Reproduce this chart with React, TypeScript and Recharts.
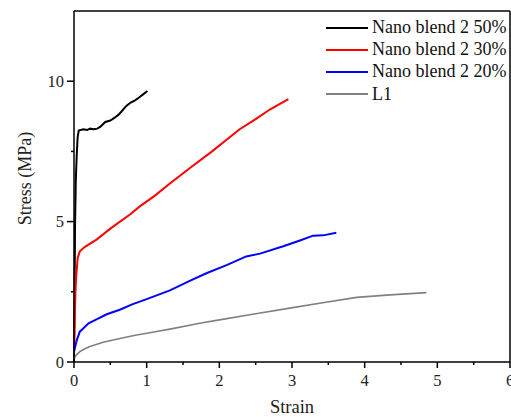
import React from 'react';
import { LineChart, Line, XAxis, YAxis, ReferenceLine, Legend } from 'recharts';

// strain / stress pairs
const blend50 = [
    { x: 0, y: 0 }, { x: 0.008, y: 2.5 }, { x: 0.014, y: 4.8 }, { x: 0.025, y: 6.5 },
    { x: 0.037, y: 7.33 }, { x: 0.05, y: 8.0 }, { x: 0.065, y: 8.24 }, { x: 0.13, y: 8.29 },
    { x: 0.18, y: 8.26 }, { x: 0.22, y: 8.31 }, { x: 0.27, y: 8.29 }, { x: 0.32, y: 8.31 },
    { x: 0.36, y: 8.37 }, { x: 0.43, y: 8.55 }, { x: 0.5, y: 8.6 }, { x: 0.56, y: 8.7 },
    { x: 0.61, y: 8.8 }, { x: 0.66, y: 8.94 }, { x: 0.72, y: 9.12 }, { x: 0.78, y: 9.24 },
    { x: 0.84, y: 9.32 }, { x: 0.9, y: 9.43 }, { x: 0.96, y: 9.55 }, { x: 1.01, y: 9.65 },
];
const blend30 = [
    { x: 0, y: 0.3 }, { x: 0.01, y: 1.5 }, { x: 0.02, y: 2.5 }, { x: 0.03, y: 3.05 },
    { x: 0.05, y: 3.7 }, { x: 0.08, y: 3.94 }, { x: 0.15, y: 4.1 }, { x: 0.31, y: 4.36 },
    { x: 0.5, y: 4.75 }, { x: 0.77, y: 5.25 }, { x: 0.91, y: 5.55 }, { x: 1.1, y: 5.9 },
    { x: 1.32, y: 6.36 }, { x: 1.6, y: 6.92 }, { x: 1.9, y: 7.5 }, { x: 2.28, y: 8.29 },
    { x: 2.5, y: 8.65 }, { x: 2.7, y: 9.0 }, { x: 2.95, y: 9.36 },
];
const blend20 = [
    { x: 0, y: 0.37 }, { x: 0.04, y: 0.79 }, { x: 0.08, y: 1.08 }, { x: 0.13, y: 1.2 },
    { x: 0.2, y: 1.38 }, { x: 0.31, y: 1.52 }, { x: 0.45, y: 1.7 }, { x: 0.63, y: 1.86 },
    { x: 0.8, y: 2.05 }, { x: 1.0, y: 2.24 }, { x: 1.32, y: 2.55 }, { x: 1.6, y: 2.9 },
    { x: 1.83, y: 3.17 }, { x: 2.1, y: 3.45 }, { x: 2.37, y: 3.76 }, { x: 2.56, y: 3.86 },
    { x: 2.88, y: 4.12 }, { x: 3.1, y: 4.32 }, { x: 3.29, y: 4.5 }, { x: 3.43, y: 4.51 },
    { x: 3.61, y: 4.6 },
];
const l1 = [
    { x: 0, y: 0.1 }, { x: 0.02, y: 0.22 }, { x: 0.08, y: 0.37 }, { x: 0.15, y: 0.47 },
    { x: 0.22, y: 0.55 }, { x: 0.4, y: 0.7 }, { x: 0.6, y: 0.82 }, { x: 0.86, y: 0.96 },
    { x: 1.1, y: 1.07 }, { x: 1.32, y: 1.17 }, { x: 1.73, y: 1.38 }, { x: 2.0, y: 1.5 },
    { x: 2.5, y: 1.72 }, { x: 2.97, y: 1.92 }, { x: 3.4, y: 2.1 }, { x: 3.89, y: 2.3 },
    { x: 4.35, y: 2.39 }, { x: 4.85, y: 2.47 },
];

const xTicks = [0, 0.5, 1, 1.5, 2, 2.5, 3, 3.5, 4, 4.5, 5, 5.5, 6];
const yTicks = [0, 2.5, 5, 7.5, 10];

const series = [
    { name: 'Nano blend 2 50%', data: blend50, color: '#000000', width: 2 },
    { name: 'Nano blend 2 30%', data: blend30, color: '#ff0000', width: 2 },
    { name: 'Nano blend 2 20%', data: blend20, color: '#0000ff', width: 2 },
    { name: 'L1', data: l1, color: '#808080', width: 1.6 },
];

const FONT = 'Liberation Serif';

const XTick = (props: any) => {
    const { x, y, payload } = props;
    const major = Number.isInteger(payload.value);
    return (
        <g>
            <line x1={x} x2={x} y1={y} y2={y + (major ? 6 : 3)} stroke="#000" strokeWidth={1.5} />
            {major && (
                <text x={x} y={y + 24} textAnchor="middle" fontSize={16.5} fontFamily={FONT} fill="#222">
                    {payload.value}
                </text>
            )}
        </g>
    );
};

const YTick = (props: any) => {
    const { x, y, payload } = props;
    const major = payload.value % 5 === 0;
    return (
        <g>
            <line x1={x - (major ? 7 : 3)} x2={x} y1={y} y2={y} stroke="#000" strokeWidth={1.5} />
            {major && (
                <text x={x - 10} y={y + 5.5} textAnchor="end" fontSize={16.5} fontFamily={FONT} fill="#222">
                    {payload.value}
                </text>
            )}
        </g>
    );
};

const YTitle = (props: any) => {
    const { viewBox } = props;
    const cx = 31;
    const cy = viewBox.y + viewBox.height / 2 - 8;
    return (
        <text x={cx} y={cy} transform={`rotate(-90 ${cx} ${cy})`} textAnchor="middle" fontSize={18} fontFamily={FONT} fill="#222">
            Stress (MPa)
        </text>
    );
};

const XTitle = (props: any) => {
    const { viewBox } = props;
    const cx = viewBox.x + viewBox.width / 2;
    return (
        <text x={cx} y={413} textAnchor="middle" fontSize={18.5} fontFamily={FONT} fill="#222">
            Strain
        </text>
    );
};

const LegendBox = () => (
    <div style={{ fontFamily: FONT, fontSize: 18, color: '#111' }}>
        {series.map(s => (
            <div key={s.name} style={{ display: 'flex', alignItems: 'center', height: 22.2, lineHeight: '22.2px' }}>
                <span style={{ display: 'inline-block', width: 42, height: 0, borderTop: `2px solid ${s.color}`, marginRight: 4, marginTop: 1, flexShrink: 0 }} />
                <span style={{ whiteSpace: 'nowrap' }}>{s.name}</span>
            </div>
        ))}
    </div>
);

export default function App() {
    return (
        <div style={{ position: 'absolute', left: 0, top: 0, width: 511, height: 417, background: '#fff', fontFamily: FONT }}>
            <LineChart width={511} height={417} margin={{ top: 11, right: 1, left: 0, bottom: 0 }} style={{ fontFamily: FONT }}>
                <XAxis
                    type="number"
                    dataKey="x"
                    domain={[0, 6]}
                    ticks={xTicks}
                    interval={0}
                    height={55}
                    tickSize={0}
                    tickMargin={0}
                    tickLine={false}
                    tick={<XTick />}
                    axisLine={{ stroke: '#000', strokeWidth: 1.5 }}
                    allowDuplicatedCategory={false}
                    label={<XTitle />}
                />
                <YAxis
                    type="number"
                    domain={[0, 12.5]}
                    ticks={yTicks}
                    interval={0}
                    width={74}
                    tickSize={0}
                    tickMargin={0}
                    tickLine={false}
                    tick={<YTick />}
                    axisLine={{ stroke: '#000', strokeWidth: 1.5 }}
                    label={<YTitle />}
                />
                <ReferenceLine y={12.5} stroke="#000" strokeWidth={1.5} />
                <ReferenceLine x={6} stroke="#000" strokeWidth={1.5} />
                <Legend
                    layout="horizontal"
                    verticalAlign="middle"
                    align="center"
                    content={<LegendBox />}
                    wrapperStyle={{ top: 16, left: 326, width: 185 }}
                />
                {series.map(s => (
                    <Line
                        key={s.name}
                        name={s.name}
                        data={s.data}
                        dataKey="y"
                        type="linear"
                        stroke={s.color}
                        strokeWidth={s.width}
                        dot={false}
                        activeDot={false}
                        isAnimationActive={false}
                    />
                ))}
            </LineChart>
        </div>
    );
}
